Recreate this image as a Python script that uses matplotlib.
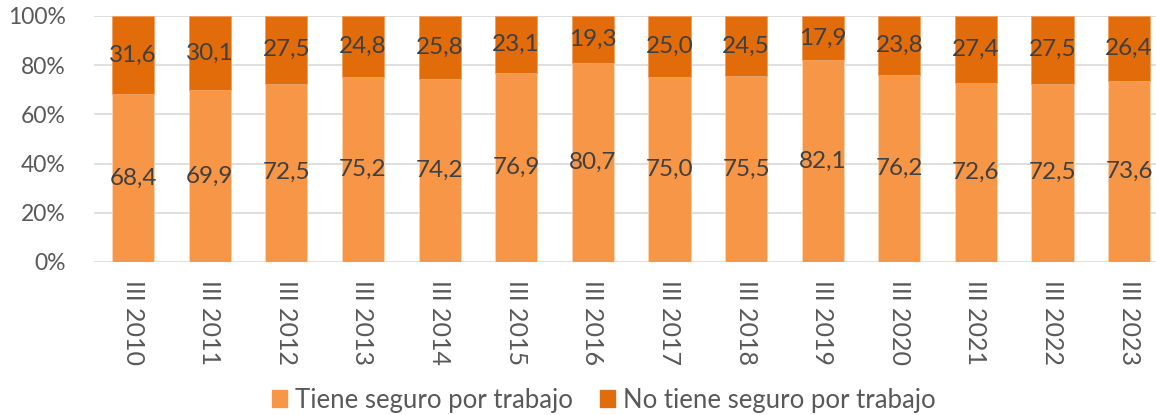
import numpy as np
import matplotlib.pyplot as plt
from matplotlib.patches import Patch

plt.rcParams['font.family'] = ['Lato', 'DejaVu Sans']

periods = ['III 2010', 'III 2011', 'III 2012', 'III 2013', 'III 2014', 'III 2015', 'III 2016',
           'III 2017', 'III 2018', 'III 2019', 'III 2020', 'III 2021', 'III 2022', 'III 2023']
con_seguro = [68.4, 69.9, 72.5, 75.2, 74.2, 76.9, 80.7, 75.0, 75.5, 82.1, 76.2, 72.6, 72.5, 73.6]
sin_seguro = [31.6, 30.1, 27.5, 24.8, 25.8, 23.1, 19.3, 25.0, 24.5, 17.9, 23.8, 27.4, 27.5, 26.4]
series_names = ['Tiene seguro por trabajo', 'No tiene seguro por trabajo']

c_light = '#F79646'
c_dark = '#E36C0A'
grey = '#595959'

fig = plt.figure(figsize=(11.56, 4.15), dpi=100)
ax = fig.add_axes([94 / 1156, 1 - 262 / 415, 1 - 94 / 1156, (262 - 16) / 415])

x = np.arange(len(periods))
w = 0.55
b1 = ax.bar(x, con_seguro, w, color=c_light, edgecolor='#FBD5B5', linewidth=0.6, zorder=3)
b2 = ax.bar(x, sin_seguro, w, bottom=con_seguro, color=c_dark, edgecolor='#F0A060',
            linewidth=0.6, zorder=3)

lab_size = 17.5
for rect, v in zip(b1, con_seguro):
    ax.text(rect.get_x() + rect.get_width() / 2, v / 2, f'{v:.1f}'.replace('.', ','),
            ha='center', va='center', fontsize=lab_size, color='#404040', zorder=4)
for rect, v, b in zip(b2, sin_seguro, con_seguro):
    ax.text(rect.get_x() + rect.get_width() / 2, b + v / 2, f'{v:.1f}'.replace('.', ','),
            ha='center', va='center', fontsize=lab_size, color='#404040', zorder=4)

ax.set_ylim(0, 100)
ax.set_xlim(-0.51, 13.35)
ax.set_yticks(range(0, 101, 20))
ax.set_yticklabels([f'{t}%' for t in range(0, 101, 20)], fontsize=16.5, color=grey)
ax.set_xticks(x)
ax.set_xticklabels(periods, rotation=270, fontsize=18, color=grey, va='top', ha='center')
ax.tick_params(axis='both', length=0)
ax.tick_params(axis='y', pad=20.5)
ax.tick_params(axis='x', pad=13)
ax.yaxis.grid(True, color='#D9D9D9', linewidth=1.2, zorder=0)
for s in ax.spines.values():
    s.set_visible(False)

handles = [Patch(color=c_light), Patch(color=c_dark)]
fig.legend(handles, series_names, loc='center', bbox_to_anchor=(0.522, 0.036), ncol=2,
           frameon=False, fontsize=18.5, handlelength=0.6, handleheight=0.6,
           handletextpad=0.3, columnspacing=1.05, labelcolor=grey)

fig.savefig('out.png', dpi=100)
